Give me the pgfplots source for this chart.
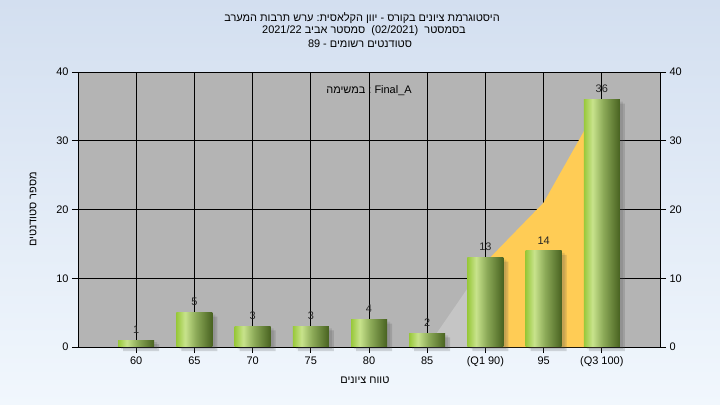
\documentclass[border=0pt]{standalone}
\usepackage{fontspec}
\setmainfont{Liberation Sans}
\newfontfamily\heb[Script=Hebrew]{Liberation Sans}
\usepackage{pgfplots}
\pgfplotsset{compat=1.18}
\TeXXeTstate=1
\definecolor{bgtop}{RGB}{211,223,240}
\definecolor{bgbot}{RGB}{241,247,253}
\definecolor{plotbg}{RGB}{180,180,180}
\definecolor{lgray}{RGB}{197,197,197}
\definecolor{qorange}{RGB}{255,204,85}
\definecolor{bA}{RGB}{152,200,58}
\definecolor{bB}{RGB}{200,227,140}
\definecolor{bC}{RGB}{140,170,88}
\definecolor{bD}{RGB}{72,98,32}
\pgfdeclarehorizontalshading{barshade}{100bp}{color(0bp)=(bA); color(25bp)=(bA); color(37bp)=(bB); color(52bp)=(bC); color(75bp)=(bD); color(100bp)=(bD)}
\pgfplotstableread{
x y
0 1
1 5
2 3
3 3
4 4
5 2
6 13
7 14
8 36
}\bars
\newcommand\fs{\fontsize{11}{13}\selectfont}
\newcommand\annot{\beginR\heb במשימה\endR\ \char"3A\ Final\_A}
\begin{document}
\begin{tikzpicture}
\shade[top color=bgtop, bottom color=bgbot] (0,0) rectangle (720bp,405bp);
\path[use as bounding box] (0,0) rectangle (720bp,405bp);
\node[font=\fs] at (362bp,387bp) {\beginR\heb היסטוגרמת ציונים בקורס - יוון הקלאסית\hbox{:} ערש תרבות המערב\endR};
\node[font=\fs] at (364bp,374bp) {\beginR{\heb בסמסטר}\ \ \beginL(02/2021)\endL\ \ {\heb סמסטר אביב} \beginL 2021/22\endL\endR};
\node[font=\fs] at (360bp,361bp) {\beginR{\heb סטודנטים רשומים} - 89\endR};
\begin{axis}[
  at={(78bp,58bp)}, anchor=south west,
  width=582bp, height=275bp, scale only axis,
  xmin=-1, xmax=9, ymin=0, ymax=40,
  xtick={0,...,8},
  xticklabels={60,65,70,75,80,85,(Q1 90),95,(Q3 100)},
  ytick={0,10,20,30,40},
  ytick pos=left, xtick pos=bottom,
  tick align=outside,
  major tick length=6bp,
  grid=major, grid style={black, line width=0.9bp},
  axis background/.style={fill=plotbg},
  axis line style={black, line width=0.9bp},
  major tick style={black, line width=0.9bp},
  /pgf/number format/assume math mode=true,
  ticklabel style={font=\fs},
  xlabel={\beginR\heb טווח ציונים\endR},
  ylabel={\beginR\heb מספר סטודנטים\endR},
  label style={font=\fs},
  xlabel style={at={(axis description cs:0.493,-0.12)}, anchor=center},
  ylabel style={at={(axis description cs:-0.077,0.5)}, anchor=center},
  clip=false,
  barstyle/.style={ybar, bar width=36bp, bar shift=0bp, draw=none, shading=barshade,
    nodes near coords,
    every node near coord/.append style={font=\fs, text=black!85, anchor=south, yshift=3bp}},
]
\addplot[fill=lgray, draw=none] coordinates {(5,0) (6,12.3)} \closedcycle;
\addplot[fill=qorange, draw=none] coordinates {(6,12.3) (7,21) (8,36)} \closedcycle;
\addplot[ybar, bar width=36bp, bar shift=5bp, draw=none, fill=black!70, opacity=0.2, yshift=-4bp] table[x=x,y=y] {\bars};
\addplot[ybar, bar width=36bp, bar shift=3bp, draw=none, fill=black!70, opacity=0.15, yshift=-2bp] table[x=x,y=y] {\bars};
\addplot[barstyle] coordinates {(0,1)};
\addplot[barstyle] coordinates {(1,5)};
\addplot[barstyle] coordinates {(2,3)};
\addplot[barstyle] coordinates {(3,3)};
\addplot[barstyle] coordinates {(4,4)};
\addplot[barstyle] coordinates {(5,2)};
\addplot[barstyle] coordinates {(6,13)};
\addplot[barstyle] coordinates {(7,14)};
\addplot[barstyle] coordinates {(8,36)};
\node[font=\fs] at (axis cs:4,37.3) {\annot};
\end{axis}
\begin{axis}[
  at={(78bp,58bp)}, anchor=south west,
  width=582bp, height=275bp, scale only axis,
  xmin=-1, xmax=9, ymin=0, ymax=40,
  axis x line=none, axis y line*=right,
  ytick={0,10,20,30,40},
  tick align=outside, major tick length=6bp,
  axis line style={black, line width=0.9bp},
  major tick style={black, line width=0.9bp},
  /pgf/number format/assume math mode=true,
  ticklabel style={font=\fs},
]
\end{axis}
\end{tikzpicture}
\end{document}
